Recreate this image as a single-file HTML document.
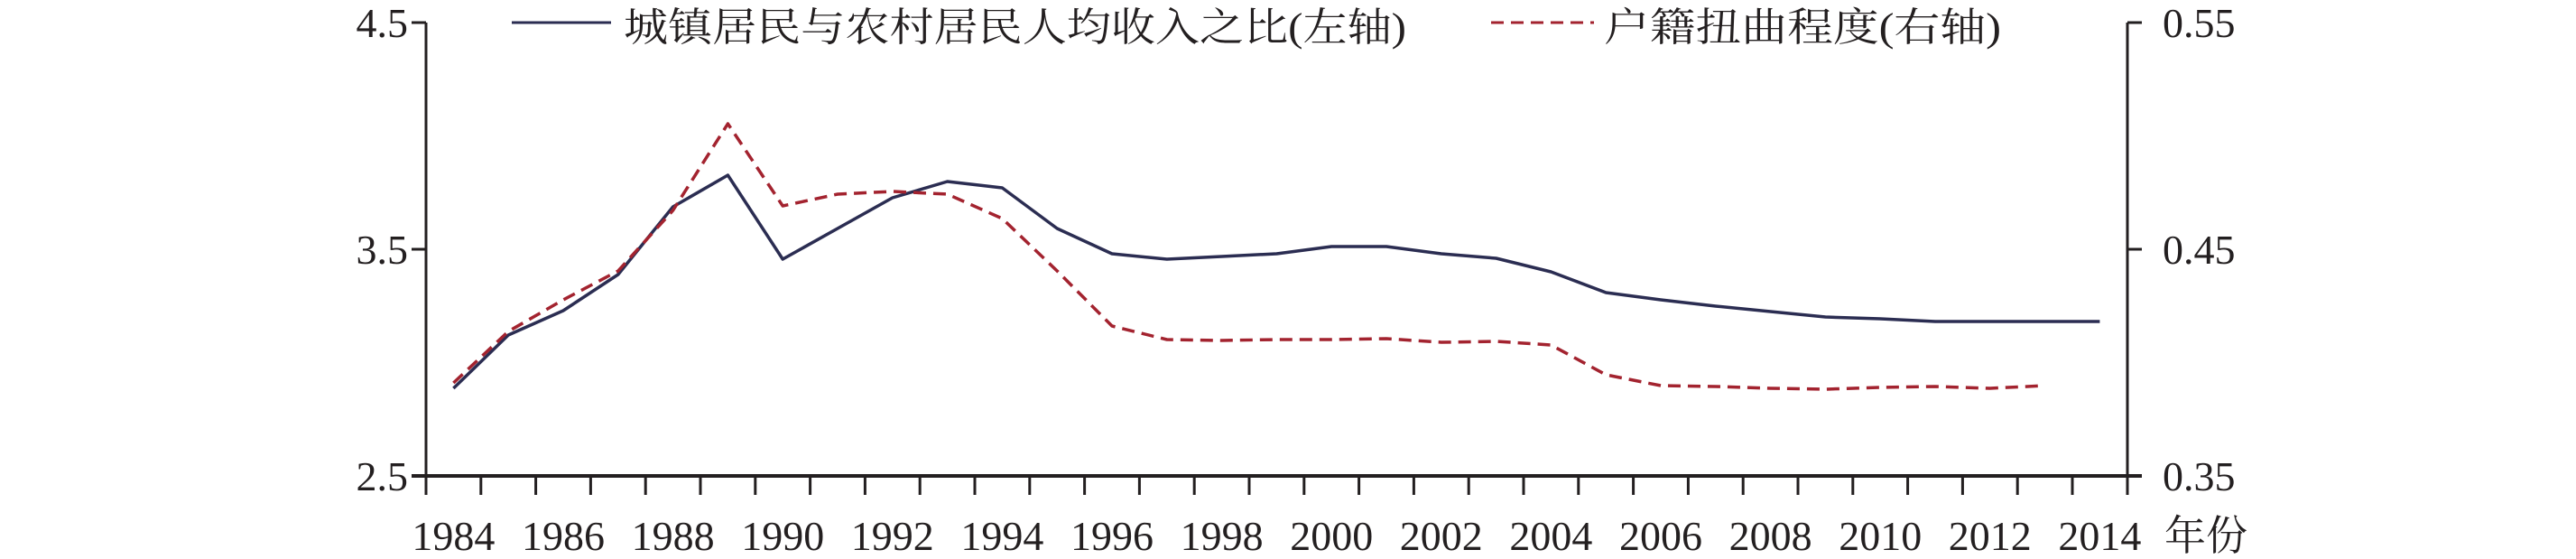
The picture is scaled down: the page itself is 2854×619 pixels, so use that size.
<!DOCTYPE html>
<html><head><meta charset="utf-8"><style>body{margin:0;background:#fff}svg{display:block}</style></head><body>
<svg width="2854" height="619" viewBox="0 0 2854 619" xmlns="http://www.w3.org/2000/svg">
<g stroke="#231f20" stroke-width="3" fill="none">
<line x1="472" y1="25" x2="472" y2="548"/>
<line x1="2357" y1="25" x2="2357" y2="548"/>
<line x1="456" y1="527" x2="2373" y2="527" stroke-width="4"/>
<line x1="456" y1="25" x2="472" y2="25"/>
<line x1="456" y1="276" x2="472" y2="276"/>
<line x1="2357" y1="25" x2="2373" y2="25"/>
<line x1="2357" y1="276" x2="2373" y2="276"/>
<path d="M532.8 527V548M593.6 527V548M654.4 527V548M715.2 527V548M776 527V548M836.8 527V548M897.6 527V548M958.4 527V548M1019.2 527V548M1080 527V548M1140.8 527V548M1201.6 527V548M1262.4 527V548M1323.2 527V548M1384 527V548M1444.8 527V548M1505.6 527V548M1566.4 527V548M1627.2 527V548M1688 527V548M1748.8 527V548M1809.6 527V548M1870.4 527V548M1931.2 527V548M1992 527V548M2052.8 527V548M2113.6 527V548M2174.4 527V548M2235.2 527V548M2296 527V548"/>
</g>
<g font-family="Liberation Serif, serif" font-size="46" fill="#231f20">
<text x="452" y="41" text-anchor="end">4.5</text>
<text x="452" y="292" text-anchor="end">3.5</text>
<text x="452" y="543" text-anchor="end">2.5</text>
<text x="2396" y="41">0.55</text>
<text x="2396" y="292">0.45</text>
<text x="2396" y="543">0.35</text>
<g text-anchor="middle">
<text x="502.4" y="609">1984</text>
<text x="624" y="609">1986</text>
<text x="745.6" y="609">1988</text>
<text x="867.2" y="609">1990</text>
<text x="988.8" y="609">1992</text>
<text x="1110.4" y="609">1994</text>
<text x="1232" y="609">1996</text>
<text x="1353.6" y="609">1998</text>
<text x="1475.2" y="609">2000</text>
<text x="1596.8" y="609">2002</text>
<text x="1718.4" y="609">2004</text>
<text x="1840" y="609">2006</text>
<text x="1961.6" y="609">2008</text>
<text x="2083.2" y="609">2010</text>
<text x="2204.8" y="609">2012</text>
<text x="2326.4" y="609">2014</text>
</g>
</g>
<text x="2398" y="609" font-family="Liberation Serif, 'Noto Serif CJK SC', serif" font-size="46" fill="#231f20">年份</text>
<line x1="567" y1="25" x2="677" y2="25" stroke="#2b2d52" stroke-width="3"/>
<text x="691" y="45" font-family="Liberation Serif, 'Noto Serif CJK SC', serif" font-size="44" fill="#231f20" textLength="867" lengthAdjust="spacingAndGlyphs">城镇居民与农村居民人均收入之比(左轴)</text>
<line x1="1652" y1="25" x2="1766" y2="25" stroke="#a3232f" stroke-width="3" stroke-dasharray="14,8"/>
<text x="1777" y="45" font-family="Liberation Serif, 'Noto Serif CJK SC', serif" font-size="44" fill="#231f20" textLength="440" lengthAdjust="spacingAndGlyphs">户籍扭曲程度(右轴)</text>
<polyline id="blue" fill="none" stroke="#2b2d52" stroke-width="3.5" stroke-linejoin="round"/>
<polyline id="red" fill="none" stroke="#a3232f" stroke-width="3.5" stroke-dasharray="14,8" stroke-linejoin="round"/>
<script>
var s=60.8,x0=472;
var b=[430,371,344,304,229,194,287,253,219,201,208,253,281,287,284,281,273,273,281,286,301,324,332,339,345,351,353,356,356,356,356];
var r=[424,367,332,300,233,137,228,215,212,215,242,300,361,376,377,376,376,375,379,378,382,415,427,428,430,431,429,428,430,427];
function pts(a){return a.map(function(v,i){return (x0+s*(i+0.5)).toFixed(1)+','+v}).join(' ')}
document.getElementById('blue').setAttribute('points',pts(b));
document.getElementById('red').setAttribute('points',pts(r));
</script>
</svg>
</body></html>
